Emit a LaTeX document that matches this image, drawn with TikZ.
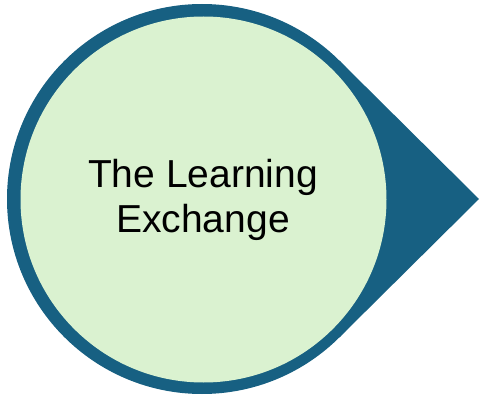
\documentclass[tikz,border=0pt]{standalone}
\usepackage{fontspec}
\setmainfont{Liberation Sans}
\definecolor{ringteal}{RGB}{23,96,130}
\definecolor{softgreen}{RGB}{218,242,208}
\begin{document}
\begin{tikzpicture}[x=1pt,y=1pt,
  outerdisc/.style={circle,fill=ringteal,inner sep=0pt,outer sep=0pt,minimum size=390pt},
  innerdisc/.style={circle,fill=softgreen,inner sep=0pt,outer sep=0pt,minimum size=366pt},
  label/.style={align=center,inner sep=0pt,font=\fontsize{39}{45}\selectfont,text=black}]
\useasboundingbox (0,0) rectangle (480,400);
\node[outerdisc] (outer) at (202,201) {};
\coordinate (tip) at (479,201);
\fill[ringteal] (outer.center) -- (outer.45.3) -- (tip) -- (outer.-45.3) -- cycle;
\node[innerdisc] (inner) at (203.5,200.5) {};
\node[label] (title) at (203,199.6) {The Learning\\Exchange};
\end{tikzpicture}
\end{document}
